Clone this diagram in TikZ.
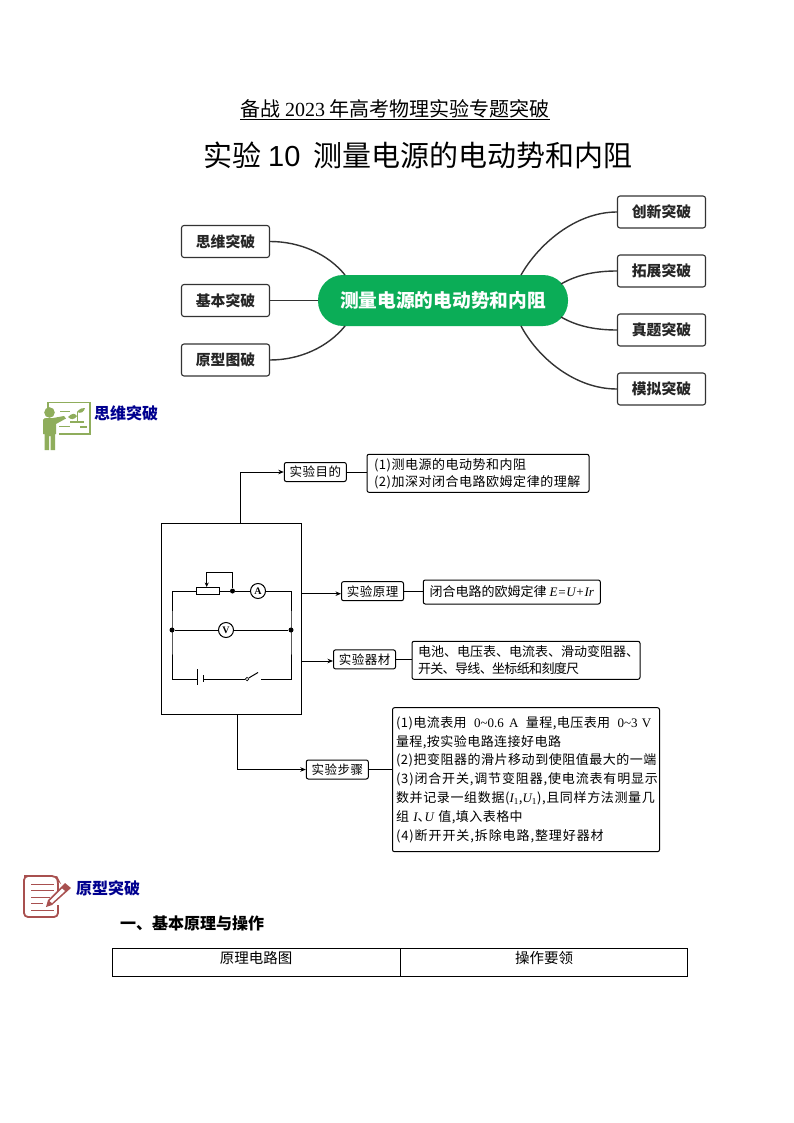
\documentclass[tikz,border=0pt]{standalone}
\usepackage{fontspec}
\usetikzlibrary{arrows.meta,shapes.geometric}
\setmainfont{Noto Sans CJK SC}
\newfontfamily\ser{Liberation Serif}
\newfontfamily\san{Liberation Sans}
\newcommand\fs[2]{\fontsize{#1}{#2}\selectfont}
\newcommand\lt[1]{{\ser #1}}
\newcommand\ita[1]{{\ser\itshape #1}}
\newcommand\ls[2]{{\addfontfeature{LetterSpace=#1}#2}}
\definecolor{pillgreen}{HTML}{0BAD57}
\definecolor{bar}{HTML}{333333}
\definecolor{headblue}{HTML}{00008F}
\definecolor{olive}{HTML}{8FAD5C}
\definecolor{notered}{HTML}{A8504F}
\tikzset{
  x=1pt,y=-1pt,
  mapbox/.style={draw=bar,line width=1.1pt,rounded corners=2.5pt,minimum width=88pt,minimum height=32pt,inner sep=0pt,font=\fs{14.8}{16}\bfseries,text=black!85},
  mapline/.style={draw=bar,line width=1.4pt},
  tag/.style={draw=black,line width=1pt,rounded corners=2pt,inner sep=0pt,font=\fs{12.5}{14}\addfontfeature{LetterSpace=4}},
  note/.style={draw=black,line width=1pt,rounded corners=2pt,inner sep=0pt,font=\fs{13}{17},align=left},
  wire/.style={draw=black,line width=1pt},
  flow/.style={draw=black,line width=1pt,-{Stealth[length=5.5pt,width=4.5pt]}},
  meter/.style={draw=black,line width=1pt,circle,minimum size=15pt,inner sep=0pt,fill=white,font=\ser\fs{10}{10}\bfseries},
  joint/.style={circle,fill=black,minimum size=5pt,inner sep=0pt},
  head/.style={anchor=west,inner sep=0pt,font=\fs{16}{17}\bfseries,text=headblue},
  cell/.style={draw=black,line width=0.8pt,minimum height=28pt,inner sep=0pt},
}
\begin{document}
\begin{tikzpicture}
\useasboundingbox[fill=white] (0,0) rectangle (794,1123);
% titles
\node[inner sep=0pt,font=\fs{20}{24}] (sub) at (395,108.5) {备战 \lt{2023} 年高考物理实验专题突破};
\draw[line width=0.8pt] (sub.west |- 0,119.5) coordinate (ula) -- (sub.east |- 0,119.5) coordinate (ulb);
\node[inner sep=0pt,font=\fs{29}{32}] (title) at (418,155) {实验 {\san 10}\ \ 测量电源的电动势和内阻};
% mind map
\node[fill=pillgreen,rounded corners=25pt,minimum width=250pt,minimum height=51pt,inner sep=0pt,text=white,font=\fs{18.7}{20}\bfseries] (hub) at (443,300.5) {\raisebox{-1pt}{测量电源的电动势和内阻}};
\node[mapbox] (l1) at (225.5,241.5) {思维突破};
\node[mapbox] (l2) at (225.5,300.5) {基本突破};
\node[mapbox] (l3) at (225.5,360) {原型图破};
\node[mapbox] (r1) at (661.5,212) {创新突破};
\node[mapbox] (r2) at (661.5,271) {拓展突破};
\node[mapbox] (r3) at (661.5,330) {真题突破};
\node[mapbox] (r4) at (661.5,389) {模拟突破};
\coordinate (h1) at (345,275);
\coordinate (h3) at (345,326);
\coordinate (h4) at (521,275);
\coordinate (h5) at (561,284);
\coordinate (h6) at (561,317);
\coordinate (h7) at (521,326);
\draw[mapline] (l1.east) .. controls (300,241.5) and (328,254) .. (h1);
\draw[mapline] (l2.east) -- (hub.west);
\draw[mapline] (l3.east) .. controls (300,360) and (328,347) .. (h3);
\draw[mapline] (r1.west) .. controls (575,212) and (538,245) .. (h4);
\draw[mapline] (r2.west) .. controls (592,271) and (575,276) .. (h5);
\draw[mapline] (r3.west) .. controls (592,330) and (575,325) .. (h6);
\draw[mapline] (r4.west) .. controls (575,389) and (538,358) .. (h7);
% teacher icon
\begin{scope}[olive]
\draw[line width=1.6pt] (48,402.5) rectangle (90,434);
\draw[line width=0.8pt] (60,411) -- (70,411) (58,426) -- (70,426);
\fill (68,417) .. controls (72,413) and (75,413) .. (77,416) .. controls (74,420) and (71,420) .. (68,417);
\fill (77,412) .. controls (80,408) and (83,408) .. (85,408) .. controls (84,412) and (81,414) .. (77,412);
\draw[line width=0.8pt] (77,412) -- (77,421);
\fill (70,421) rectangle (84,423);
\fill (80,426) rectangle (87,428);
\fill[white] (43,408) rectangle (56,418);
\fill[white] (41,417) rectangle (59,451);
\fill (49.5,412.5) circle (5.3);
\fill (43,420) .. controls (43,418.5) and (45,418) .. (47,418) -- (53,418) -- (64,416) -- (66,418.5) -- (56,424) -- (56,434) -- (55,434) -- (55,450) -- (50.5,450) -- (50.5,436) -- (49,436) -- (49,450) -- (44.5,450) -- (44.5,434) -- (43,434) -- cycle;
\end{scope}
\node[head] (h-a) at (94,413.5) {思维突破};
% flow: frame
\node[draw=black,line width=1pt,minimum width=140pt,minimum height=191pt,inner sep=0pt] (frame) at (231.2,618.5) {};
\coordinate (fa) at (240.3,523);
\coordinate (fb) at (301.5,593.7);
\coordinate (fc) at (301.5,661);
\coordinate (fd) at (237.7,714);
\node[tag,minimum width=62pt,minimum height=19pt] (t1) at (315.3,472) {实验目的};
\node[tag,minimum width=62pt,minimum height=19pt] (t2) at (372.5,591.2) {实验原理};
\node[tag,minimum width=62pt,minimum height=19pt] (t3) at (364.5,659.4) {实验器材};
\node[tag,minimum width=62pt,minimum height=19pt] (t4) at (337.3,769.5) {实验步骤};
\node[note,minimum width=222pt,minimum height=38pt,text width=208pt] (n1) at (478,473.3) {\ls{4}{(1)测电源的电动势和内阻\\(2)加深对闭合电路欧姆定律的理解}};
\node[note,minimum width=177pt,minimum height=24pt] (n2) at (511.8,592) {闭合电路的欧姆定律 \ita{E=U+Ir}};
\node[note,minimum width=228pt,minimum height=38pt,text width=216pt] (n3) at (526,660.3) {电池、电压表、电流表、滑动变阻器、\\\ls{-5}{开关、导线、坐标纸和刻度尺}};
\node[note,minimum width=267pt,minimum height=144pt,text width=260pt,font=\fs{13}{18.9}] (n4) at (526,779.7) {\ls{3.5}{(1)电流表用\hspace{3pt} \lt{0\textasciitilde0.6\hspace{1pt} A}\hspace{3pt} 量程,电压表用\hspace{3pt} \lt{0\textasciitilde3 V}}\\\ls{3.5}{量程,按实验电路连接好电路}\\\ls{4}{(2)把变阻器的滑片移动到使阻值最大的一端}\\\ls{6.5}{(3)闭合开关,调节变阻器,使电流表有明显示}\\\ls{5}{数并记录一组数据(\ita{I}\textsubscript{\lt{1}},\ita{U}\textsubscript{\lt{1}}),且同样方法测量几}\\\ls{3.5}{组 \ita{I}、\kern-6pt\ita{U} 值,填入表格中}\\\ls{7}{(4)断开开关,拆除电路,整理好器材}};
\draw[flow] (fa) |- (t1.west);
\draw[flow] (fb) -- (fb -| t2.west);
\draw[flow] (fc) -- (fc -| t3.west);
\draw[flow] (fd) |- (t4.west);
\draw[wire] (t1.east) -- (t1.east -| n1.west);
\draw[wire] (t2.east) -- (t2.east -| n2.west);
\draw[wire] (t3.east) -- (t3.east -| n3.west);
\draw[wire] (t4.east) -- (t4.east -| n4.west);
% circuit
\coordinate (tl) at (172,591);
\coordinate (tr) at (291,591);
\coordinate (bl) at (172,679);
\coordinate (br) at (291,679);
\node[joint] (jl) at (172,630) {};
\node[joint] (jr) at (291,630) {};
\node[joint] (jt) at (232.5,591) {};
\node[meter] (am) at (258,591) {A};
\node[meter] (vm) at (226,630) {V};
\node[draw=black,line width=1pt,minimum width=23.5pt,minimum height=7pt,inner sep=0pt] (rh) at (208,591) {};
\coordinate (ba) at (197.3,679);
\coordinate (bb) at (203,679);
\node[circle,draw=black,line width=0.7pt,fill=white,minimum size=3.5pt,inner sep=0pt] (sw) at (247,679) {};
\coordinate (swt) at (258,672.5);
\coordinate (swb) at (260.7,679);
\coordinate (rk) at (206.7,572);
\draw[wire] (rh.west) -- (tl) -- (jl.center) -- (bl) -- (ba);
\draw[wire] (rh.east) -- (jt) -- (am) -- (tr) -- (jr.center) -- (br) -- (swb);
\draw[wire] (jl) -- (vm) -- (jr);
\draw[wire] (bb) -- (sw.west);
\draw[wire] (sw) -- (swt);
\draw[wire,-{Stealth[length=4.5pt,width=4pt]}] (jt) |- (rk) -- (rk |- rh.north);
\draw[line width=1pt] (197.3,669) coordinate (p1) -- (197.3,685) coordinate (p2);
\draw[line width=1pt] (203,675) coordinate (p3) -- (203,682) coordinate (p4);
% note icon
\begin{scope}[notered]
\draw[line width=1.8pt,rounded corners=4pt] (30,876) -- (24,876) -- (24,917) -- (58,917) -- (58,905);
\draw[line width=1.8pt,rounded corners=4pt] (24,876) -- (56,876) -- (58,880) -- (58,891);
\draw[line width=0.7pt] (31,884) -- (54,884) (31,890) -- (54,890) (31,897) -- (50,897) (31,903) -- (43,903) (31,910) -- (54,910);
\fill (65,883) -- (71,888) -- (52,905) -- (46,907) -- (48,900) -- cycle;
\fill[white] (62,888.5) -- (65,891) -- (52,903) -- (49.5,901) -- cycle;
\end{scope}
\node[head] (h-b) at (76,888) {原型突破};
\node[anchor=west,inner sep=0pt,font=\fs{16}{18}\bfseries] (sec) at (120,923) {一、基本原理与操作};
% table
\node[cell,minimum width=287.5pt,anchor=north west] (c1) at (112,948) {};
\node[cell,minimum width=287pt,anchor=north west] (c2) at (400,948) {};
\node[inner sep=0pt,font=\fs{14.5}{16}] (c1t) at (256,958) {原理电路图};
\node[inner sep=0pt,font=\fs{14.5}{16}] (c2t) at (544,958) {操作要领};
\end{tikzpicture}
\end{document}
